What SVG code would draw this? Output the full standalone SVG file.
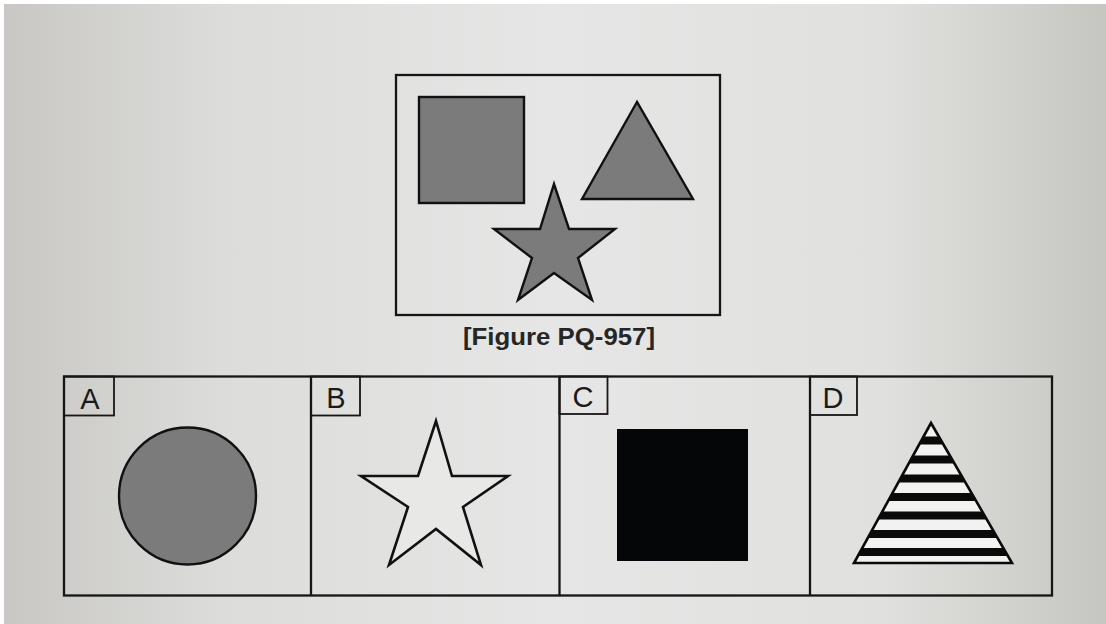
<svg xmlns="http://www.w3.org/2000/svg" width="1106" height="624" viewBox="0 0 1106 624">
  <defs>
    <linearGradient id="bg" x1="0" y1="0" x2="1" y2="0">
      <stop offset="0" stop-color="#c8c7c3"/>
      <stop offset="0.2" stop-color="#dcdcda"/>
      <stop offset="0.5" stop-color="#e6e6e6"/>
      <stop offset="0.8" stop-color="#e0e0de"/>
      <stop offset="1" stop-color="#c6c6c1"/>
    </linearGradient>
    <clipPath id="triClip">
      <polygon points="931,423 854,563 1012,563"/>
    </clipPath>
    <style>
      .frame { fill: none; stroke: #161616; stroke-width: 2.3; }
      .gray { fill: #7b7b7b; stroke: #111111; stroke-width: 2.4; stroke-linejoin: miter; }
      .lbl { fill: none; stroke: #161616; stroke-width: 1.8; }
      .letter { font-family: "Liberation Sans", Arial, sans-serif; font-size: 29px; fill: #1a1a1a; text-anchor: middle; }
      .caption { font-family: "Liberation Sans", Arial, sans-serif; font-weight: bold; font-size: 23px; fill: #262626; text-anchor: middle; }
    </style>
  </defs>

  <rect x="0" y="0" width="1106" height="624" fill="url(#bg)"/>
  <rect x="0" y="0" width="1106" height="4" fill="#ffffff"/>
  <rect x="0" y="0" width="4" height="624" fill="#ffffff"/>

  <g id="figure">
    <rect class="frame" x="396" y="75" width="324" height="240"/>
    <rect id="fig-square" class="gray" x="419" y="97" width="105" height="106"/>
    <polygon id="fig-triangle" class="gray" points="637,102 582,199 693,199"/>
    <polygon id="fig-star" class="gray" points="554,184 569,229 615,229 578,258 592,300 554,273 518,300 532,258 494,229 540,229"/>
  </g>
  <text id="caption" class="caption" x="559" y="345" textLength="192" lengthAdjust="spacingAndGlyphs">[Figure PQ-957]</text>

  <g id="options">
    <rect class="frame" x="64" y="376.5" width="988" height="219"/>
    <line class="frame" x1="311" y1="376.5" x2="311" y2="595.5"/>
    <line class="frame" x1="559.5" y1="376.5" x2="559.5" y2="595.5"/>
    <line class="frame" x1="810" y1="376.5" x2="810" y2="595.5"/>
  </g>

  <g id="optA">
    <rect class="lbl" x="64" y="376.5" width="50" height="39"/>
    <text class="letter" x="90" y="409">A</text>
    <circle class="gray" cx="187.5" cy="496" r="68.5" fill="#787878"/>
  </g>

  <g id="optB">
    <rect class="lbl" x="311" y="376.5" width="49" height="39"/>
    <text class="letter" x="336" y="408">B</text>
    <polygon fill="#e8e8e6" stroke="#111111" stroke-width="2.6" points="436,421 452,476 508,476 463,507 481,565 436,529 389,565 408,507 361,476 418,476"/>
  </g>

  <g id="optC">
    <rect class="lbl" x="559.5" y="376.5" width="48" height="37.5"/>
    <text class="letter" x="583" y="407">C</text>
    <rect x="617" y="429" width="131" height="132" fill="#050608"/>
  </g>

  <g id="optD">
    <rect class="lbl" x="810" y="376.5" width="47" height="38.5"/>
    <text class="letter" x="833" y="408">D</text>
    <g clip-path="url(#triClip)">
      <rect x="850" y="420" width="170" height="146" fill="#f2f2f0"/>
      <rect x="850" y="436.5" width="170" height="8" fill="#0a0a0a"/>
      <rect x="850" y="455.5" width="170" height="8" fill="#0a0a0a"/>
      <rect x="850" y="474.5" width="170" height="8" fill="#0a0a0a"/>
      <rect x="850" y="493" width="170" height="8" fill="#0a0a0a"/>
      <rect x="850" y="511.5" width="170" height="8" fill="#0a0a0a"/>
      <rect x="850" y="530" width="170" height="8" fill="#0a0a0a"/>
      <rect x="850" y="548" width="170" height="8" fill="#0a0a0a"/>
    </g>
    <polygon fill="none" stroke="#0a0a0a" stroke-width="2.6" points="931,423 854,563 1012,563"/>
  </g>
</svg>
